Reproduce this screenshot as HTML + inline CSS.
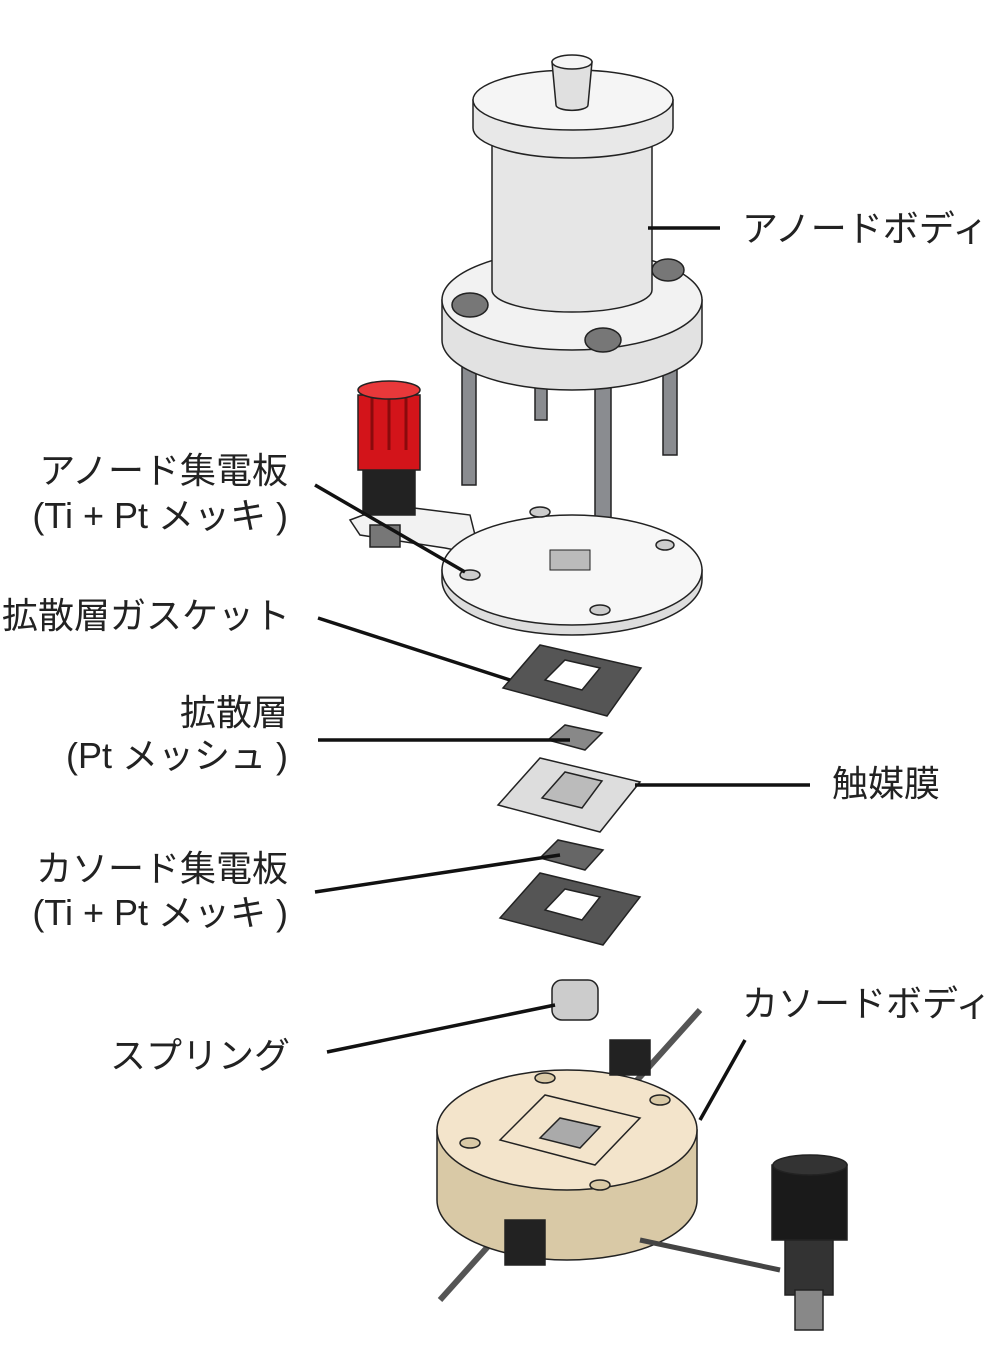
<!DOCTYPE html>
<html><head><meta charset="utf-8"><style>
html,body{margin:0;padding:0;background:#fff;}
svg{display:block}
text{font-family:"Liberation Sans","Noto Sans CJK JP",sans-serif;font-size:36px;fill:#222;}
</style></head><body>
<svg width="1000" height="1359" viewBox="0 0 1000 1359" xmlns="http://www.w3.org/2000/svg">
<g stroke="#222" stroke-width="1.5">
<rect x="462" y="340" width="14" height="145" fill="#8a8c90"/>
<rect x="663" y="330" width="14" height="125" fill="#8a8c90"/>
<rect x="595" y="360" width="16" height="160" fill="#8a8c90"/>
<rect x="535" y="370" width="12" height="50" fill="#8a8c90"/>
<path d="M442 300 L442 340 A130 50 0 0 0 702 340 L702 300 Z" fill="#e2e2e2"/>
<ellipse cx="572" cy="300" rx="130" ry="50" fill="#f2f2f2"/>
<ellipse cx="470" cy="305" rx="18" ry="12" fill="#777"/>
<ellipse cx="668" cy="270" rx="16" ry="11" fill="#777"/>
<ellipse cx="603" cy="340" rx="18" ry="12" fill="#777"/>
<path d="M492 120 L492 290 A80 22 0 0 0 652 290 L652 120 Z" fill="#e6e6e6"/>
<path d="M473 100 L473 128 A100 30 0 0 0 673 128 L673 100 Z" fill="#e8e8e8"/>
<ellipse cx="573" cy="100" rx="100" ry="30" fill="#f5f5f5"/>
<path d="M552 62 L556 105 A15 5 0 0 0 588 105 L592 62 Z" fill="#e0e0e0"/>
<ellipse cx="572" cy="62" rx="20" ry="7" fill="#f5f5f5"/>
<polygon points="350,520 390,505 470,515 480,555 445,548 360,535" fill="#f2f2f2"/>
<rect x="370" y="525" width="30" height="22" fill="#777"/>
<path d="M442 570 L442 580 A130 55 0 0 0 702 580 L702 570 Z" fill="#ddd"/>
<ellipse cx="572" cy="570" rx="130" ry="55" fill="#f7f7f7"/>
<ellipse cx="470" cy="575" rx="10" ry="5" fill="#ccc"/>
<ellipse cx="540" cy="512" rx="10" ry="5" fill="#ccc"/>
<ellipse cx="665" cy="545" rx="9" ry="5" fill="#ccc"/>
<ellipse cx="600" cy="610" rx="10" ry="5" fill="#ccc"/>
<rect x="550" y="550" width="40" height="20" fill="#bbb" stroke-width="1"/>
<rect x="363" y="465" width="52" height="50" fill="#222"/>
<rect x="358" y="395" width="62" height="75" fill="#d3141a"/>
<line x1="372" y1="395" x2="372" y2="450" stroke="#8a0a0c" stroke-width="3"/>
<line x1="389" y1="395" x2="389" y2="450" stroke="#8a0a0c" stroke-width="3"/>
<line x1="406" y1="395" x2="406" y2="450" stroke="#8a0a0c" stroke-width="3"/>
<ellipse cx="389" cy="390" rx="31" ry="9" fill="#e8383a"/>
<polygon points="503,688 540,645 641,668 607,716" fill="#555"/>
<polygon points="545,680 565,660 600,668 582,690" fill="#fff"/>
<polygon points="548,740 565,725 602,733 585,750" fill="#888"/>
<polygon points="498,805 540,758 640,782 600,832" fill="#ddd"/>
<polygon points="542,798 565,772 602,781 582,808" fill="#bbb"/>
<polygon points="540,858 558,840 603,850 585,870" fill="#666"/>
<polygon points="500,918 540,873 640,897 603,945" fill="#555"/>
<polygon points="545,910 565,889 600,897 582,920" fill="#fff"/>
<rect x="552" y="980" width="46" height="40" rx="10" fill="#ccc"/>
<line x1="440" y1="1300" x2="700" y2="1010" stroke="#555" stroke-width="6"/>
<path d="M437 1130 L437 1200 A130 60 0 0 0 697 1200 L697 1130 Z" fill="#d9c9a6"/>
<ellipse cx="567" cy="1130" rx="130" ry="60" fill="#f3e4cb"/>
<polygon points="500,1140 545,1095 640,1118 595,1165" fill="none"/>
<polygon points="540,1138 560,1118 600,1127 580,1148" fill="#aaa"/>
<ellipse cx="545" cy="1078" rx="10" ry="5" fill="#d9c9a6"/>
<ellipse cx="660" cy="1100" rx="10" ry="5" fill="#d9c9a6"/>
<ellipse cx="470" cy="1143" rx="10" ry="5" fill="#d9c9a6"/>
<ellipse cx="600" cy="1185" rx="10" ry="5" fill="#d9c9a6"/>
<rect x="505" y="1220" width="40" height="45" fill="#222"/>
<rect x="610" y="1040" width="40" height="35" fill="#222"/>
<line x1="640" y1="1240" x2="780" y2="1270" stroke="#444" stroke-width="5"/>
<rect x="772" y="1165" width="75" height="75" fill="#1a1a1a"/>
<ellipse cx="810" cy="1165" rx="37" ry="10" fill="#333"/>
<rect x="785" y="1240" width="48" height="55" fill="#333"/>
<rect x="795" y="1290" width="28" height="40" fill="#888"/>
</g>
<g stroke="#111" stroke-width="3.5" fill="none">
<line x1="648" y1="228" x2="720" y2="228"/>
<line x1="315" y1="485" x2="465" y2="572"/>
<line x1="318" y1="618" x2="510" y2="680"/>
<line x1="318" y1="740" x2="570" y2="740"/>
<line x1="635" y1="785" x2="810" y2="785"/>
<line x1="315" y1="892" x2="560" y2="855"/>
<line x1="327" y1="1052" x2="555" y2="1005"/>
<line x1="745" y1="1040" x2="700" y2="1120"/>
</g>
<text x="742" y="241">アノードボディ</text>
<text x="288" y="483" text-anchor="end">アノード集電板</text>
<text x="288" y="528" text-anchor="end">(Ti + Pt メッキ )</text>
<text x="290" y="628" text-anchor="end">拡散層ガスケット</text>
<text x="288" y="725" text-anchor="end">拡散層</text>
<text x="288" y="768" text-anchor="end">(Pt メッシュ )</text>
<text x="832" y="796">触媒膜</text>
<text x="288" y="881" text-anchor="end">カソード集電板</text>
<text x="288" y="925" text-anchor="end">(Ti + Pt メッキ )</text>
<text x="742" y="1016">カソードボディ</text>
<text x="290" y="1068" text-anchor="end">スプリング</text>
</svg>
</body></html>
